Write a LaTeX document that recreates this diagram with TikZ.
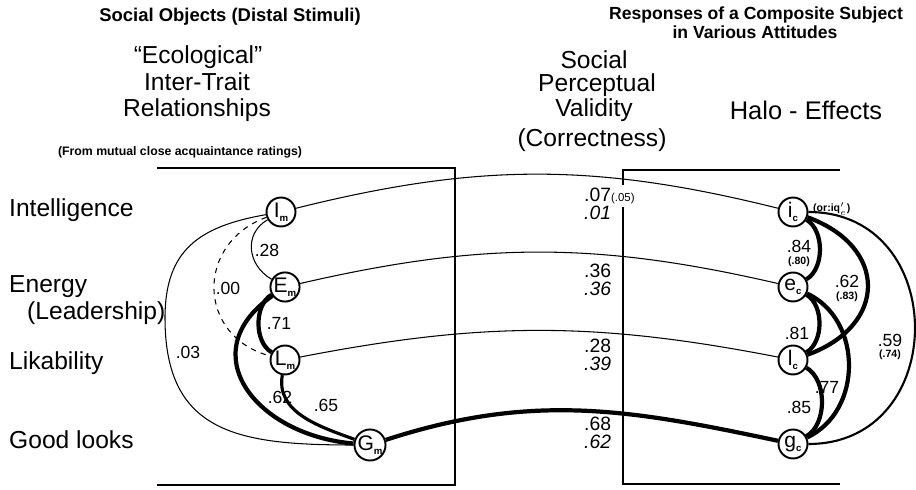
\documentclass[tikz,border=0pt]{standalone}
\usepackage{fontspec}
\setmainfont{Liberation Sans}
\newcommand{\tsub}[1]{\raisebox{-0.35ex}{\bfseries\fontsize{5.5}{5.5}\selectfont #1}}
\begin{document}
\begin{tikzpicture}[x=0.02cm,y=0.02cm,
        trait/.style={circle,draw,fill=white,line width=1.1pt,minimum size=0.58cm,inner sep=0pt,font=\fontsize{12}{12}\selectfont},
        faint/.style={line width=0.6pt},
        medium/.style={line width=1.2pt},
        heavy/.style={line width=2.4pt},
        frame/.style={line width=1.6pt},
        coef/.style={font=\fontsize{10}{10}\selectfont},
        small/.style={font=\bfseries\fontsize{6}{6}\selectfont},
        trait label/.style={anchor=west,font=\fontsize{14}{14}\selectfont},
        head/.style={inner sep=0pt,font=\fontsize{14}{14}\selectfont},
        valid/.style={anchor=west,align=left,font=\fontsize{11}{10.5}\selectfont}]
        \useasboundingbox (0,0) rectangle (916,490);

        % Coordinates
        \coordinate (A) at (157,322);
        \coordinate (B) at (455,322);
        \coordinate (C) at (455,5);
        \coordinate (D) at (157,5);
        \coordinate (E) at (840,320);
        \coordinate (F) at (623,320);
        \coordinate (G) at (623,305);
        \coordinate (H) at (623,283);
        \coordinate (K) at (623,6);
        \coordinate (L) at (840,6);
        \coordinate (W) at (165,172);

        % Headings
        \node[font=\bfseries\fontsize{10.5}{10.5}\selectfont] (h1) at (230,473) {Social Objects (Distal Stimuli)};
        \node[head] (h2) at (198,433) {``Ecological''};
        \node[head] (h3) at (197,408) {Inter-Trait};
        \node[head] (h4) at (197,380) {Relationships};
        \node[font=\bfseries\fontsize{7}{7}\selectfont] (h5) at (180,338) {(From mutual close acquaintance ratings)};
        \node[font=\bfseries\fontsize{10}{10}\selectfont] (h6) at (756,475) {Responses of a Composite Subject};
        \node[font=\bfseries\fontsize{10}{10}\selectfont] (h7) at (755,458) {in Various Attitudes};
        \node[head] (h8) at (594,430) {Social};
        \node[head] (h9) at (597,405) {Perceptual};
        \node[head] (h10) at (594,380) {Validity};
        \node[head] (h11) at (592,350) {(Correctness)};
        \node[head,font=\fontsize{14.5}{14.5}\selectfont] (h12) at (806,380) {Halo - Effects};

        % Traits
        \node[trait label] (t1) at (3,280) {Intelligence};
        \node[trait label] (t2) at (3,203) {Energy};
        \node[trait label] (t3) at (21,177) {(Leadership)};
        \node[trait label] (t4) at (3,127) {Likability};
        \node[trait label] (t5) at (3,50) {Good looks};

        % Nodes
        \node[trait] (Im) at (281,278) {I\tsub{m}};
        \node[trait] (Em) at (285,203) {E\tsub{m}};
        \node[trait] (Lm) at (285,130) {L\tsub{m}};
        \node[trait] (Gm) at (370,45) {G\tsub{m}};
        \node[trait] (ic) at (793,278) {i\tsub{c}};
        \node[trait] (ec) at (793,203) {e\tsub{c}};
        \node[trait] (lc) at (793,130) {l\tsub{c}};
        \node[trait] (gc) at (793,46) {g\tsub{c}};

        % Frames
        \draw[frame] (A) -- (B) -- (C) -- (D);
        \draw[frame] (E) -- (F) -- (G);
        \draw[frame] (H) -- (K) -- (L);

        % Validity
        \draw[faint] (Im) to[out=14,in=166] (ic);
        \draw[faint] (Em) to[out=13,in=167] (ec);
        \draw[faint] (Lm) to[out=11,in=169] (lc);
        \draw[heavy] (Gm) to[out=18,in=168] (gc);
        \node[valid] (v1) at (578,286) {.07{\fontsize{6.5}{6.5}\selectfont(.05)}\\\textit{.01}};
        \node[valid] (v2) at (578,210) {.36\\\textit{.36}};
        \node[valid] (v3) at (578,135) {.28\\\textit{.39}};
        \node[valid] (v4) at (578,57) {.68\\\textit{.62}};

        % Ecological
        \draw[faint] (Im) to[out=210,in=150,looseness=1.2] (Em);
        \draw[faint,dashed] (Im) to[out=200,in=165,looseness=1.4] (Lm);
        \draw[faint] (Im) to[out=190,in=90,looseness=1.2] (W) to[out=270,in=180,looseness=1.3] (Gm);
        \draw[heavy] (Em) to[out=210,in=150,looseness=0.9] (Lm);
        \draw[heavy] (Em) to[out=215,in=175,looseness=1.5] (Gm);
        \draw[line width=1.8pt] (Lm) to[out=260,in=160] (Gm);
        \node[coef] (r1) at (267,240) {.28};
        \node[coef] (r2) at (228,202) {.00};
        \node[coef] (r3) at (188,138) {.03};
        \node[coef] (r4) at (279,167) {.71};
        \node[coef] (r5) at (280,93) {.62};
        \node[coef] (r6) at (326,85) {.65};

        % Halo
        \draw[heavy] (ic) to[out=-30,in=30,looseness=0.9] (ec);
        \draw[heavy] (ec) to[out=-30,in=30,looseness=0.9] (lc);
        \draw[heavy] (lc) to[out=-30,in=30,looseness=0.9] (gc);
        \draw[heavy] (ic) to[out=-20,in=20,looseness=1.6] (lc);
        \draw[heavy] (ec) to[out=-25,in=25,looseness=1.1] (gc);
        \draw[medium] (ic) to[out=0,in=0,looseness=1.57] (gc);
        \node[coef] (s1) at (799,244) {.84};
        \node[small] (s1b) at (799,228) {(.80)};
        \node[coef] (s2) at (797,157) {.81};
        \node[coef] (s3) at (799,83) {.85};
        \node[coef] (s4) at (847,209) {.62};
        \node[small] (s4b) at (847,193) {(.83)};
        \node[coef] (s5) at (827,103) {.77};
        \node[coef] (s6) at (890,150) {.59};
        \node[small] (s6b) at (890,135) {(.74)};
        \node[small,anchor=west] (s7) at (807,281) {(or:iq$'_e$)};
\end{tikzpicture}
\end{document}
